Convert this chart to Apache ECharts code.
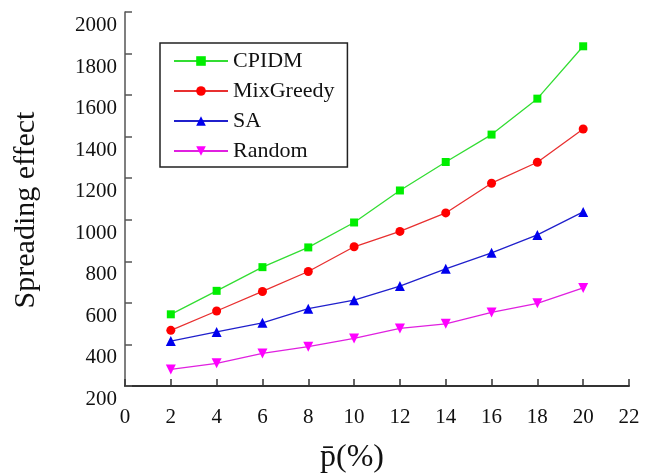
<!DOCTYPE html>
<html>
<head>
<meta charset="utf-8">
<script src="https://cdn.jsdelivr.net/npm/echarts@6/dist/echarts.min.js"></script>
<style>html,body{margin:0;padding:0;background:#fff;}#c{width:656px;height:475px;}</style>
</head>
<body>
<div id="c"></div>
<script>
var xValues = [2, 4, 6, 8, 10, 12, 14, 16, 18, 20];
var cpidm = [545, 658, 772, 867, 987, 1141, 1278, 1410, 1583, 1835];
var mixGreedy = [468, 561, 655, 751, 870, 944, 1033, 1176, 1277, 1437];
var sa = [416, 460, 504, 572, 613, 681, 764, 841, 927, 1038];
var random = [280, 309, 357, 389, 429, 477, 499, 554, 598, 672];
var seriesNames = ['CPIDM', 'MixGreedy', 'SA', 'Random'];

var FONT = 'Liberation Serif';
function pairs(ys) { return xValues.map(function (x, i) { return [x, ys[i]]; }); }

var chart = echarts.init(document.getElementById('c'), null, {renderer: 'canvas'});
var styles = [
  {color: '#00ee00', line: '#33dd33', symbol: 'rect', size: 8},
  {color: '#ff0000', line: '#e83030', symbol: 'circle', size: 9},
  {color: '#0000ee', line: '#2020cc', symbol: 'triangle', size: 10},
  {color: '#ff00ff', line: '#e020e0', symbol: 'path://M0,0 L10,0 L5,9 Z', size: 10}
];
var datasets = [cpidm, mixGreedy, sa, random];

chart.setOption({
  animation: false,
  backgroundColor: '#fff',
  grid: {left: 125, right: 27, top: 12, bottom: 89, containLabel: false, outerBoundsMode: 'none'},
  legend: {
    orient: 'vertical',
    left: 160, top: 43,
    data: seriesNames,
    itemWidth: 54, itemHeight: 12, itemGap: 8,
    padding: [7, 13, 5, 13],
    borderColor: '#222', borderWidth: 1.5,
    backgroundColor: '#fff',
    textStyle: {fontFamily: FONT, fontSize: 22, color: '#111', lineHeight: 22}
  },
  xAxis: {
    type: 'value', min: 0, max: 22, interval: 2,
    name: 'p\u0304(%)', nameLocation: 'middle', nameGap: 56,
    nameTextStyle: {fontFamily: FONT, fontSize: 32, color: '#111', padding: [0, 50, 0, 0]},
    axisLine: {show: true, onZero: false, lineStyle: {color: '#333', width: 2}},
    axisTick: {show: true, inside: true, length: 7, lineStyle: {color: '#333', width: 1.5}},
    axisLabel: {margin: 21, fontFamily: FONT, fontSize: 21, color: '#111'},
    splitLine: {show: false}
  },
  yAxis: {
    type: 'value', min: 200, max: 2000, interval: 200,
    name: 'Spreading effect', nameLocation: 'middle', nameGap: 84, nameRotate: 90,
    nameTextStyle: {fontFamily: FONT, fontSize: 30, color: '#111', padding: [0, 22, 0, 0]},
    axisLine: {show: true, onZero: false, lineStyle: {color: '#555', width: 1.5}},
    axisTick: {show: true, inside: true, length: 7, lineStyle: {color: '#555', width: 1.5}},
    axisLabel: {
      margin: 8, fontFamily: FONT, fontSize: 21, color: '#111',
      verticalAlign: 'top', padding: [3, 0, 0, 0],
      formatter: function (v) { return String(v); }
    },
    splitLine: {show: false}
  },
  series: seriesNames.map(function (n, i) {
    var s = styles[i];
    return {
      name: n, type: 'line', data: pairs(datasets[i]),
      symbol: s.symbol, symbolSize: s.size, showSymbol: true,
      itemStyle: {color: s.color},
      lineStyle: {color: s.line, width: 1.3}
    };
  })
});
</script>
</body>
</html>
